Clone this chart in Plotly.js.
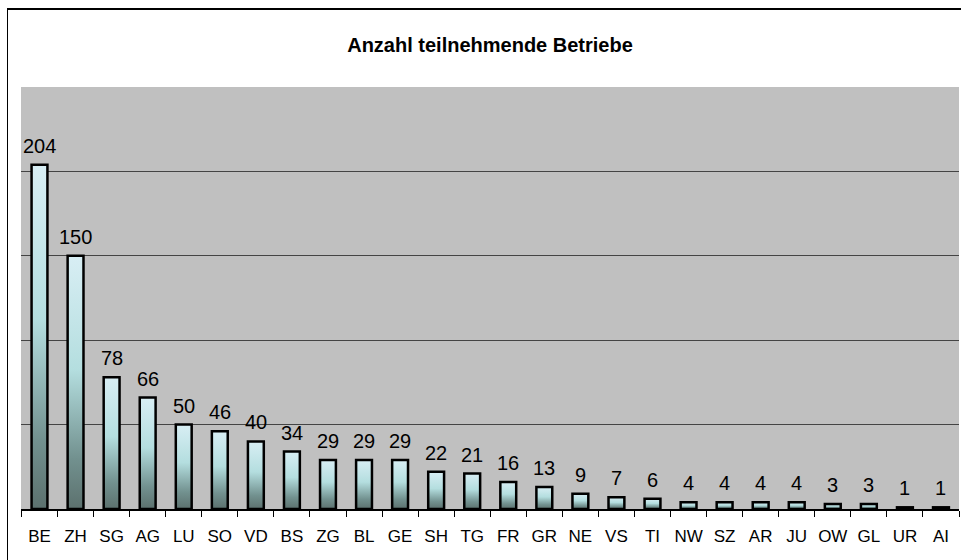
<!DOCTYPE html>
<html>
<head>
<meta charset="utf-8">
<script src="https://cdn.plot.ly/plotly-3.0.1.min.js"></script>
<style>
  html, body { margin: 0; padding: 0; background: #fff; overflow: hidden; }
  #wrap { position: relative; width: 961px; height: 560px; overflow: hidden; }
  #chart { width: 961px; height: 560px; }
  #frame { position: absolute; left: 7px; top: 8px; width: 980px; height: 600px;
           border-left: 1.5px solid #000; border-top: 2px solid #000; pointer-events: none; }
</style>
</head>
<body>
<div id="wrap">
  <div id="chart"></div>
  <div id="frame"></div>
</div>
<script>
const cantons = ["BE","ZH","SG","AG","LU","SO","VD","BS","ZG","BL","GE","SH","TG","FR","GR","NE","VS","TI","NW","SZ","AR","JU","OW","GL","UR","AI"];
const betriebe = [204,150,78,66,50,46,40,34,29,29,29,22,21,16,13,9,7,6,4,4,4,4,3,3,1,1];
const chartTitle = "Anzahl teilnehmende Betriebe";

const trace = {
  type: "bar",
  x: cantons,
  y: betriebe,
  marker: { color: "#9cc8c6", line: { color: "#000", width: 2.5 } },
  hoverinfo: "skip"
};

const valueLabels = cantons.map(function (c, i) {
  return {
    x: c, y: betriebe[i], xref: "x", yref: "y",
    text: String(betriebe[i]),
    showarrow: false, yanchor: "bottom", xanchor: "center", yshift: 6,
    font: { family: "Liberation Sans, Arial, sans-serif", size: 20, color: "#000" }
  };
});

const layout = {
  width: 961, height: 560,
  margin: { l: 21, r: 2, t: 87, b: 51 },
  paper_bgcolor: "#ffffff",
  plot_bgcolor: "#c0c0c0",
  bargap: 0.56,
  showlegend: false,
  annotations: valueLabels,
  title: {
    text: "<b>" + chartTitle + "</b>",
    font: { family: "Liberation Sans, Arial, sans-serif", size: 20, color: "#000" },
    x: 0.5, xref: "paper", xanchor: "center", y: 0.92, yanchor: "middle", yref: "container"
  },
  xaxis: {
    type: "category",
    tickson: "boundaries",
    ticks: "outside", ticklen: 6, tickcolor: "#000", tickwidth: 1,
    showline: true, linecolor: "#000", linewidth: 1.5,
    showgrid: false,
    tickangle: 0,
    tickfont: { family: "Liberation Sans, Arial, sans-serif", size: 17, color: "#000" },
    ticklabelstandoff: 11,
    fixedrange: true
  },
  yaxis: {
    range: [0, 250],
    dtick: 50,
    showticklabels: false,
    ticks: "",
    showgrid: true, gridcolor: "#444444", gridwidth: 1,
    zeroline: false,
    fixedrange: true
  }
};

Plotly.newPlot("chart", [trace], layout, { displayModeBar: false, staticPlot: true }).then(function (gd) {
  const svg = gd.querySelector("svg.main-svg");
  const ns = "http://www.w3.org/2000/svg";
  let defs = svg.querySelector("defs");
  if (!defs) { defs = document.createElementNS(ns, "defs"); svg.insertBefore(defs, svg.firstChild); }
  const grad = document.createElementNS(ns, "linearGradient");
  grad.setAttribute("id", "barGrad");
  grad.setAttribute("x1", "0"); grad.setAttribute("y1", "0");
  grad.setAttribute("x2", "0"); grad.setAttribute("y2", "1");
  [["0", "#d8eef4"], ["0.45", "#b4dedf"], ["0.8", "#72918f"], ["1", "#5c716e"]].forEach(function (s) {
    const st = document.createElementNS(ns, "stop");
    st.setAttribute("offset", s[0]);
    st.setAttribute("stop-color", s[1]);
    grad.appendChild(st);
  });
  defs.appendChild(grad);
  gd.querySelectorAll(".trace.bars .point path").forEach(function (p) {
    p.style.fill = "url(#barGrad)";
    p.style.fillOpacity = "1";
  });
});
</script>
</body>
</html>
